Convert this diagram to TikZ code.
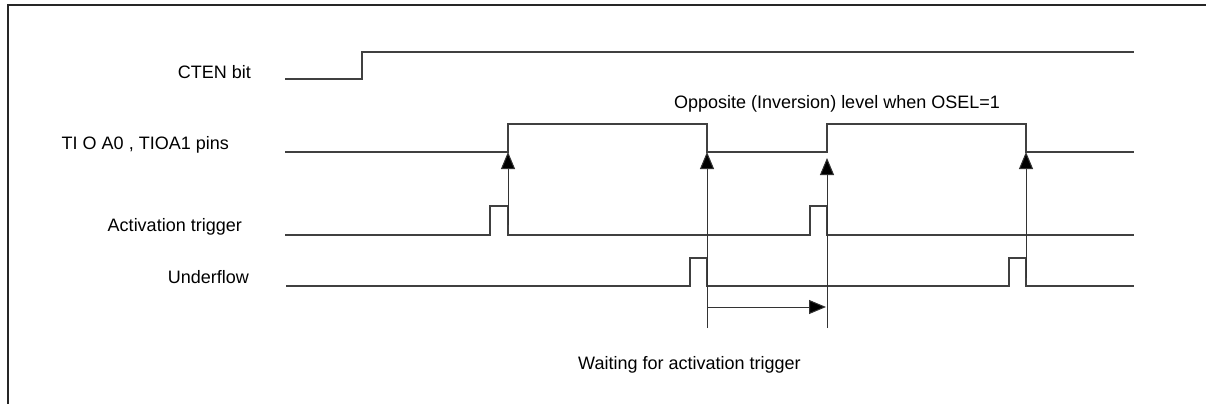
\documentclass[tikz,border=0pt]{standalone}
\usepackage{fontspec}
\setmainfont{Liberation Sans}
\usetikzlibrary{arrows.meta}

\begin{document}
\begin{tikzpicture}[x=1pt, y=-1pt,
    sig/.style={line width=1.1pt, black!75},
    trig/.style={line width=1pt, black!80, -{Triangle[length=17pt, width=14pt, fill=black]}},
    lbl/.style={inner sep=0pt, font=\fontsize{18}{21}\selectfont}]
  \useasboundingbox (0,0) rectangle (1206,404);
  % Frame
  \draw[line width=2pt, black!85] (1206,5) -- (8,5) -- (8,404);
  % Signal names
  \node[lbl, anchor=base east] (cten) at (251,78) {CTEN bit};
  \node[lbl, anchor=base east] (tioa) at (229,149) {TI O A0 , TIOA1 pins};
  \node[lbl, anchor=base east] (act) at (242,231) {Activation trigger};
  \node[lbl, anchor=base east] (udf) at (249,283) {Underflow};
  % CTEN bit
  \draw[sig] (285,79) -- (362,79) -- (362,52) -- (1134,52);
  % TIOA0, TIOA1 pins
  \draw[sig] (285,152) -- (508,152) -- (508,124) -- (707,124) -- (707,152)
    -- (827,152) -- (827,124) -- (1026,124) -- (1026,152) -- (1134,152);
  % Activation trigger
  \draw[sig] (285,235) -- (490,235) -- (490,206) -- (508,206) -- (508,235)
    -- (810,235) -- (810,206) -- (827,206) -- (827,235) -- (1134,235);
  % Underflow
  \draw[sig] (286,286) -- (690,286) -- (690,258) -- (707,258) -- (707,286)
    -- (1009,286) -- (1009,258) -- (1026,258) -- (1026,286) -- (1134,286);
  % Trigger points
  \coordinate (s1) at (508,225);  \coordinate (e1) at (508,152);
  \coordinate (s2) at (707,328);  \coordinate (e2) at (707,152);
  \coordinate (s3) at (827,328);  \coordinate (e3) at (827,158);
  \coordinate (s4) at (1026,278); \coordinate (e4) at (1026,152);
  \draw[trig] (s1) -- (e1);
  \draw[trig] (s2) -- (e2);
  \draw[trig] (s3) -- (e3);
  \draw[trig] (s4) -- (e4);
  % Waiting interval
  \coordinate (w1) at (707,307);
  \coordinate (w2) at (826,307);
  \draw[trig] (w1) -- (w2);
  \node[lbl, anchor=base west] (osel) at (674,108) {Opposite (Inversion) level when OSEL=1};
  \node[lbl, anchor=base west] (wait) at (578,369) {Waiting for activation trigger};
\end{tikzpicture}
\end{document}
